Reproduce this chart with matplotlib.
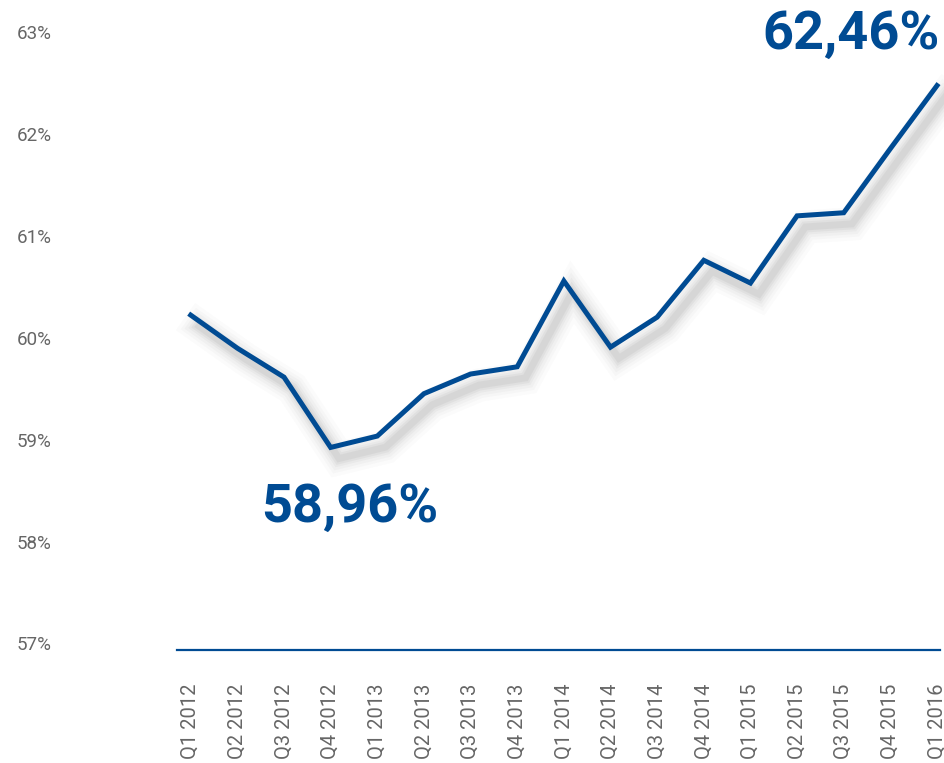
import matplotlib
matplotlib.use('Agg')
import matplotlib.pyplot as plt
import matplotlib.patheffects as pe
from matplotlib.transforms import blended_transform_factory

quarters = ['Q1 2012', 'Q2 2012', 'Q3 2012', 'Q4 2012',
            'Q1 2013', 'Q2 2013', 'Q3 2013', 'Q4 2013',
            'Q1 2014', 'Q2 2014', 'Q3 2014', 'Q4 2014',
            'Q1 2015', 'Q2 2015', 'Q3 2015', 'Q4 2015',
            'Q1 2016']
values = [60.24, 59.92, 59.64, 58.96,
          59.07, 59.48, 59.67, 59.74,
          60.57, 59.93, 60.22, 60.77,
          60.55, 61.20, 61.23, 61.85,
          62.46]
yticks = [57, 58, 59, 60, 61, 62, 63]

blue = '#004b93'
grey = '#666666'
plt.rcParams['font.family'] = ['Roboto', 'DejaVu Sans']

fig = plt.figure(figsize=(9.45, 7.63), dpi=100)
ax = fig.add_axes([0.187, 0.148, 0.808, 0.813])

x = list(range(len(quarters)))

# soft, blurred-looking drop shadow under the line
shadow = []
for w, a in [(24, 0.018), (19, 0.022), (15, 0.03), (11, 0.04), (8, 0.05), (5, 0.06)]:
    shadow.append(pe.SimpleLineShadow(offset=(6, -8), shadow_color='#444444',
                                      alpha=a, linewidth=w))
shadow.append(pe.Normal())

ax.plot(x, values, color=blue, lw=3.6, solid_joinstyle='miter',
        path_effects=shadow, clip_on=False, zorder=3)
ax.axhline(57, color=blue, lw=1.6, zorder=2, clip_on=False)

ax.set_xlim(-0.3, 16.07)
ax.set_ylim(57, 63)
for s in ax.spines.values():
    s.set_visible(False)

ax.set_xticks(x)
ax.set_xticklabels(quarters, rotation=90, color=grey, fontsize=14.5)
ax.tick_params(axis='x', length=0, pad=24)
ax.set_yticks([])

trans = blended_transform_factory(fig.transFigure, ax.transData)
for v in yticks:
    # labels sit slightly inside the gridline span
    ax.text(17 / 945, 60 + (v - 60) * 0.985, '%d%%' % v, transform=trans,
            ha='left', va='center', color=grey, fontsize=13.5)

lo = values.index(min(values))
ax.annotate('58,96%', xy=(lo, values[lo]), xytext=(14, -43),
            textcoords='offset points', ha='center', va='center',
            color=blue, fontsize=39, fontweight='bold')
ax.annotate('62,46%', xy=(x[-1], values[-1]), xytext=(-62, 37),
            textcoords='offset points', ha='center', va='center',
            color=blue, fontsize=39, fontweight='bold', annotation_clip=False)

fig.savefig('out.png', dpi=100)
plt.close()
